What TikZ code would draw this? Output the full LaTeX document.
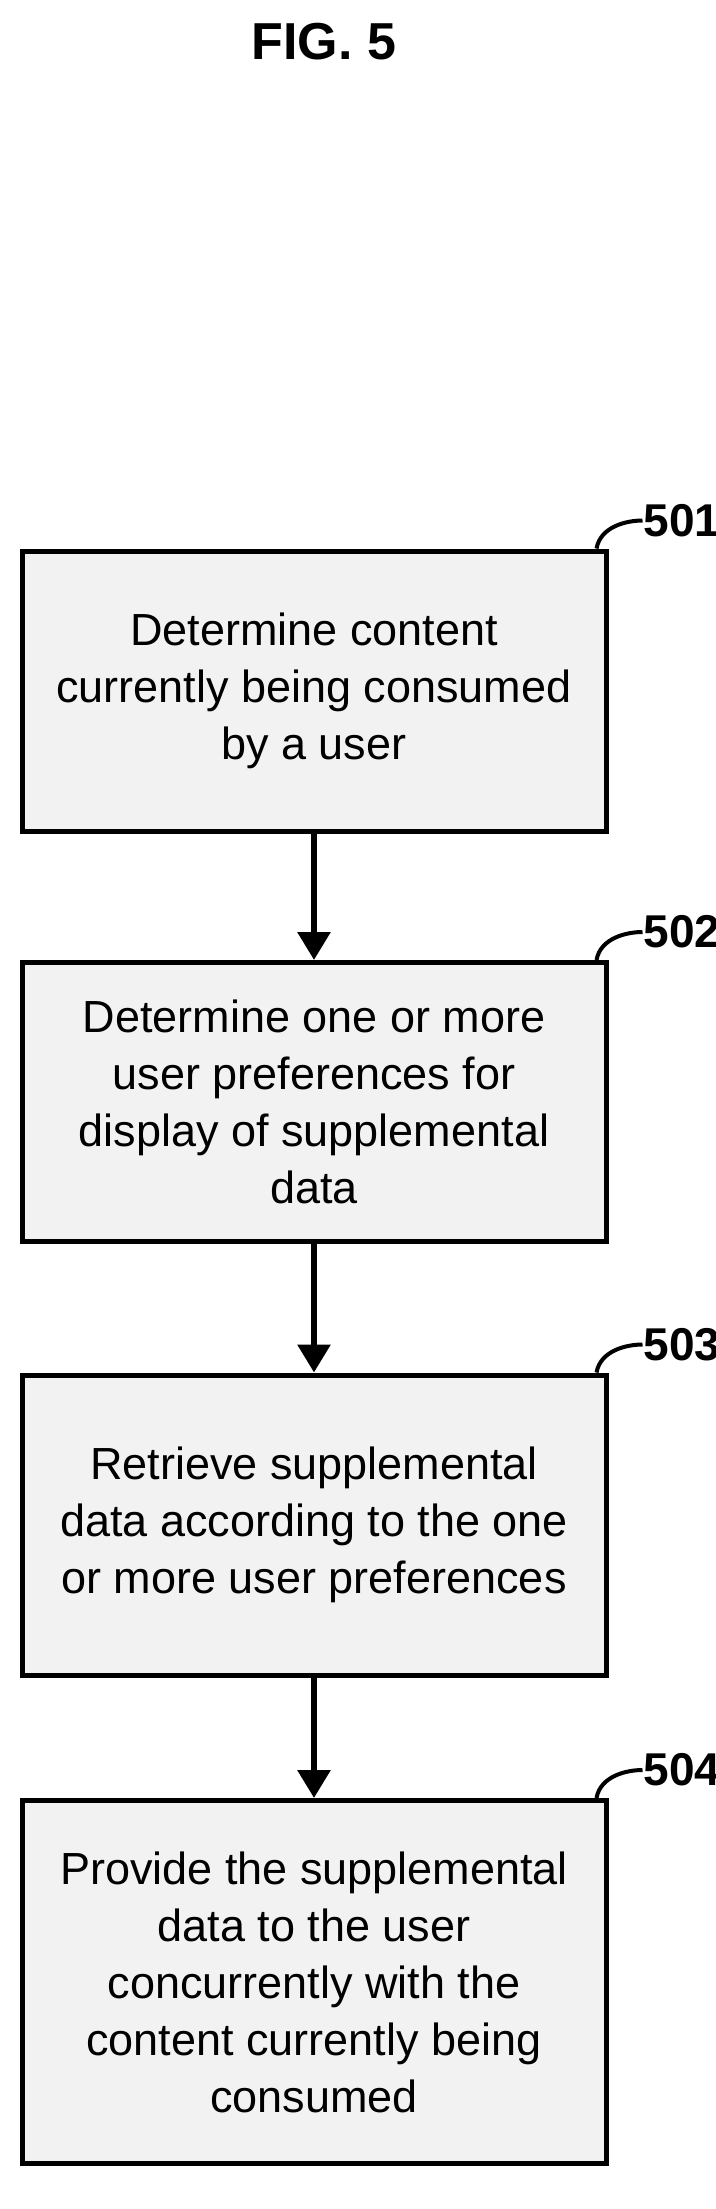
\documentclass[tikz,border=0pt]{standalone}
\usepackage{fontspec}
\setmainfont{Liberation Sans}
\usetikzlibrary{positioning,arrows.meta}
\begin{document}
\begin{tikzpicture}[x=1pt,y=1pt,
  block/.style={rectangle, draw, line width=5pt, fill=gray!10, minimum width=584pt, align=center, font=\fontsize{45}{57}\selectfont},
  flow/.style={-{Triangle[length=28pt,width=32pt]}, line width=6pt},
  tag/.style={font=\bfseries\fontsize{46}{50}\selectfont, anchor=west}]

    \useasboundingbox (0,0) rectangle (715,-2209);
    \node[font=\bfseries\fontsize{52}{56}\selectfont] (title) at (324,-42) {FIG. 5};

    \node[block, minimum height=280pt] (s1) at (314,-691) {Determine content\\currently being consumed\\by a user};
    \node[block, minimum height=279pt] (s2) at (314,-1102) {Determine one or more\\user preferences for\\display of supplemental\\data};
    \node[block, minimum height=300pt] (s3) at (314,-1525) {Retrieve supplemental\\data according to the one\\or more user preferences};
    \node[block, minimum height=363pt] (s4) at (314,-1982) {Provide the supplemental\\data to the user\\concurrently with the\\content currently being\\consumed};

    \draw[flow] (s1) -- (s2);
    \draw[flow] (s2) -- (s3);
    \draw[flow] (s3) -- (s4);

    % step numbers
    \foreach \s/\n in {s1/501, s2/502, s3/503, s4/504} {
      \node[tag, inner sep=1pt] (t\n) at ([xshift=34pt,yshift=28pt]\s.north east) {\n};
      \draw[line width=4pt] ([xshift=-12pt]\s.north east) .. controls ([xshift=-8pt,yshift=22pt]\s.north east) and ([xshift=18pt,yshift=28pt]\s.north east) .. (t\n.west);
    }

\end{tikzpicture}
\end{document}
